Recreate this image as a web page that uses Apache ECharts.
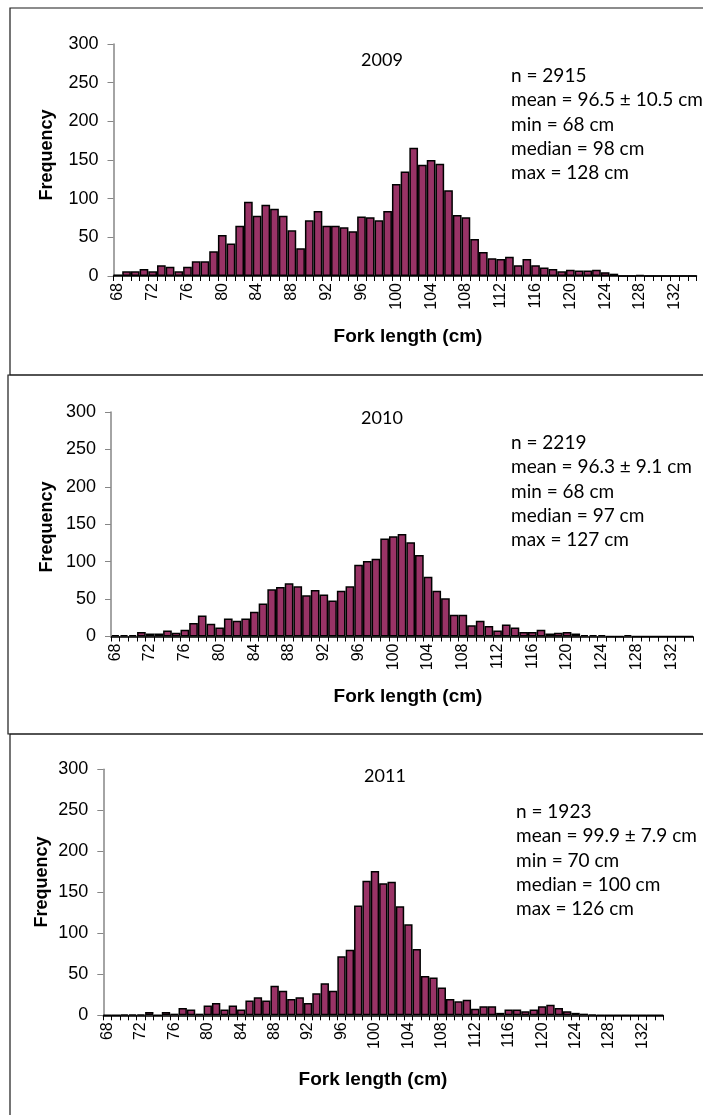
<!DOCTYPE html>
<html><head><meta charset="utf-8">
<script src="https://cdn.jsdelivr.net/npm/echarts@6/dist/echarts.min.js"></script>
<style>html,body{margin:0;padding:0;background:#fff}#c{width:703px;height:1115px}</style>
</head><body><div id="c"></div>
<script>
const lengths = ['68','69','70','71','72','73','74','75','76','77','78','79','80','81','82','83','84','85','86','87','88','89','90','91','92','93','94','95','96','97','98','99','100','101','102','103','104','105','106','107','108','109','110','111','112','113','114','115','116','117','118','119','120','121','122','123','124','125','126','127','128','129','130','131','132','133','134'];
const tickLabels = ['68','72','76','80','84','88','92','96','100','104','108','112','116','120','124','128','132'];
const yTicks = [0,50,100,150,200,250,300];
const freq2009 = [2,6,6,9,6,14,12,6,12,19, 19,32,53,42,65,96,78,92,87,78, 59,36,72,84,65,65,63,58,77,76, 72,84,119,135,166,144,150,145,111,79, 76,48,31,23,22,25,14,22,14,11, 9,6,8,7,7,8,5,3,0,0, 1,0,0,0,0,0,0];
const freq2010 = [2,2,2,6,4,4,8,5,9,18, 28,17,12,24,21,24,33,44,63,66, 71,67,55,62,56,48,61,67,96,101, 104,131,134,137,126,109,80,61,51,29, 29,15,21,14,8,16,12,6,6,9, 4,5,6,4,2,2,2,0,0,2, 0,0,0,0,0,0,0];
const freq2011 = [0,0,1,1,1,4,0,4,2,9, 7,2,12,15,7,12,7,18,22,18, 36,30,20,22,15,27,39,30,72,80, 134,164,176,161,163,133,111,81,48,46, 34,20,17,19,8,11,11,3,7,7, 5,7,11,13,9,5,3,2,1,0, 0,0,0,0,0,0,0];
const years = ['2009','2010','2011'];
const stats2009 = ['n = 2915','mean = 96.5 \u00b1 10.5 cm','min = 68 cm','median = 98 cm','max = 128 cm'];
const stats2010 = ['n = 2219','mean = 96.3 \u00b1 9.1 cm','min = 68 cm','median = 97 cm','max = 127 cm'];
const stats2011 = ['n = 1923','mean = 99.9 \u00b1 7.9 cm','min = 70 cm','median = 100 cm','max = 126 cm'];
const xName = 'Fork length (cm)';
const yName = 'Frequency';

const panels = [
  {grid:{left:113.5, top:44, width:583, height:232}, data:freq2009, year:years[0], stats:stats2009,
   box:{x:10,y:8,h:367}, yearPos:[382,60], statPos:[511,76], yNamePos:[47,155], xNamePos:[408,337]},
  {grid:{left:111, top:412, width:582, height:224.5}, data:freq2010, year:years[1], stats:stats2010,
   box:{x:8,y:375,h:359}, yearPos:[382,418], statPos:[511,443], yNamePos:[47,527], xNamePos:[408,697]},
  {grid:{left:103.3, top:769.3, width:560, height:246}, data:freq2011, year:years[2], stats:stats2011,
   box:{x:10,y:734,h:400}, yearPos:[385,776], statPos:[516,812], yNamePos:[42,882], xNamePos:[373,1080]}
];

const FONT_AX = '"Liberation Sans", Arial, sans-serif';
const FONT_TX = 'Lato, "Open Sans", sans-serif';

const option = {
  animation:false,
  backgroundColor:'#fff',
  grid: panels.map(p=>Object.assign({containLabel:false}, p.grid)),
  xAxis: panels.map((p,i)=>({
    type:'category', gridIndex:i, data:lengths, boundaryGap:true,
    axisLine:{show:true, lineStyle:{color:'#000', width:1.5}},
    axisTick:{show:true, interval:0, length:5, alignWithLabel:false, lineStyle:{color:'#000', width:1}},
    axisLabel:{show:true, interval:(idx,val)=>tickLabels.indexOf(val)>=0, rotate:90, margin:7,
      fontFamily:FONT_AX, fontSize:16, color:'#000'},
    splitLine:{show:false}
  })),
  yAxis: panels.map((p,i)=>({
    type:'value', gridIndex:i, min:yTicks[0], max:yTicks[yTicks.length-1], interval:50,
    axisLine:{show:true, lineStyle:{color:'#868686', width:1.5}},
    axisTick:{show:true, inside:false, length:6, lineStyle:{color:'#868686', width:1}},
    axisLabel:{fontFamily:FONT_AX, fontSize:18, color:'#000', margin:15},
    splitLine:{show:false}
  })),
  series: panels.map((p,i)=>({
    type:'bar', xAxisIndex:i, yAxisIndex:i, data:p.data, barCategoryGap:'0%',
    itemStyle:{color:'#993366', borderColor:'#000', borderWidth:1.5}
  })),
  graphic: []
};

panels.forEach(p=>{
  option.graphic.push({type:'rect', shape:{x:p.box.x, y:p.box.y, width:740, height:p.box.h},
    style:{fill:'none', stroke:'#1a1a1a', lineWidth:1.2}, z:0, silent:true});
  option.graphic.push({type:'text', x:p.yearPos[0], y:p.yearPos[1],
    style:{text:p.year, font:'18px '+FONT_TX, fill:'#000', textAlign:'center', textVerticalAlign:'middle'}});
  p.stats.forEach((s,k)=>{
    option.graphic.push({type:'text', x:p.statPos[0], y:p.statPos[1]+k*24.3,
      style:{text:s, font:'19px '+FONT_TX, fill:'#000', textAlign:'left', textVerticalAlign:'middle'}});
  });
  option.graphic.push({type:'text', x:p.yNamePos[0], y:p.yNamePos[1], rotation:Math.PI/2,
    style:{text:yName, font:'bold 18px '+FONT_AX, fill:'#000', textAlign:'center', textVerticalAlign:'middle'}});
  option.graphic.push({type:'text', x:p.xNamePos[0], y:p.xNamePos[1],
    style:{text:xName, font:'bold 19px '+FONT_AX, fill:'#000', textAlign:'center', textVerticalAlign:'middle'}});
});

const chart = echarts.init(document.getElementById('c'), null, {renderer:'canvas'});
chart.setOption(option);
</script></body></html>
